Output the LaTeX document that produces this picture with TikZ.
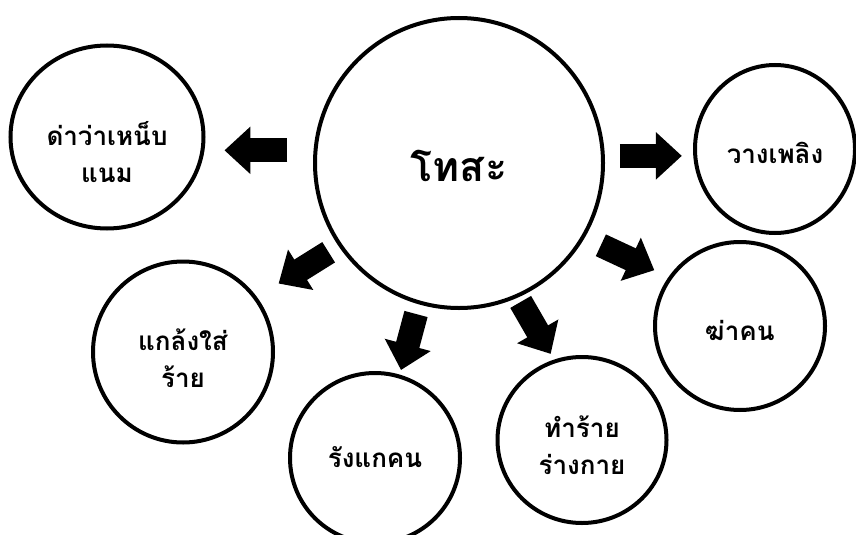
\documentclass[tikz,border=0pt]{standalone}
\usepackage{fontspec}
\newfontfamily\thaifont[Script=Thai]{Loma}
\usetikzlibrary{calc,arrows.meta,shapes.geometric}
\tikzset{
  bubble/.style    = {ellipse, draw, line width=4pt, fill=white},
  txt/.style       = {align=center, inner sep=0pt,
                      font=\thaifont\bfseries\fontsize{26}{37}\selectfont},
  bigtxt/.style    = {txt, font=\thaifont\bfseries\fontsize{41}{44}\selectfont},
  blockarrow/.style = {line width=24pt, -{Triangle[width=46pt,length=26pt]}}
}
\begin{document}
\begin{tikzpicture}[x=1pt,y=-1pt]
  \useasboundingbox (0,0) rectangle (856,535);

  \node [bubble, minimum width=288pt, minimum height=290pt,
         label={[bigtxt, yshift=-3pt]center:โทสะ}] (tosa) at (459,163) {};
  \node [bubble, minimum width=193pt, minimum height=183pt,
         label={[txt, yshift=-15pt]center:{ด่าว่าเหน็บ\\แนม}}] (dw) at (107,137) {};
  \node [bubble, minimum width=180pt, minimum height=181pt,
         label={[txt, yshift=-6pt]center:{แกล้งใส่\\ร้าย}}] (kl) at (183,352) {};
  \node [bubble, minimum width=170pt, minimum height=170pt,
         label={[txt, yshift=1pt]center:รังแกคน}] (rk) at (375,458) {};
  \node [bubble, minimum width=169pt, minimum height=166pt,
         label={[txt, yshift=-5pt]center:{ทำร้าย\\ร่างกาย}}] (tr) at (582,440) {};
  \node [bubble, minimum width=170pt, minimum height=168pt,
         label={[txt, yshift=-4pt]center:ฆ่าคน}] (kk) at (740,326) {};
  \node [bubble, minimum width=160pt, minimum height=168pt,
         label={[txt, yshift=-4pt]center:วางเพลิง}] (wp) at (775,149) {};

  \foreach \t/\a/\ang/\len in {dw/172/180/63, wp/161/0/62, kl/158/148/59,
                               rk/157/105/58, tr/152/60/60, kk/164/25/59}
    \draw [blockarrow] ($(tosa.center)!\a pt!(\t.center)$) -- ++(\ang:\len);
\end{tikzpicture}
\end{document}
